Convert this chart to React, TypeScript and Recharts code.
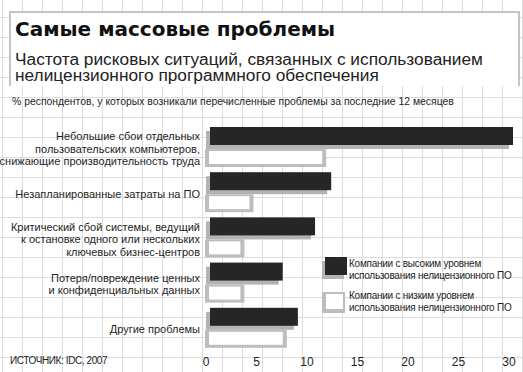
import { BarChart, Bar, XAxis, YAxis } from "recharts"

const categories = [
  "Небольшие сбои отдельных\nпользовательских компьютеров,\nснижающие производительность труда",
  "Незапланированные затраты на ПО",
  "Критический сбой системы, ведущий\nк остановке одного или нескольких\nключевых бизнес-центров",
  "Потеря/повреждение ценных\nи конфиденциальных данных",
  "Другие проблемы",
]
// % respondents, companies with high / low use of unlicensed software
const highUse = [30, 12, 10.4, 7.2, 8.7]
const lowUse = [11.9, 4.7, 3.8, 3.8, 8]
const xTicks = [0, 5, 10, 15, 20, 25, 30]
const seriesNames = [
  ["Компании с высоким уровнем", "использования нелицензионного ПО"],
  ["Компании с низким уровнем", "использования нелицензионного ПО"],
]

const data = categories.map((name, i) => ({ name, high: highUse[i], low: lowUse[i] }))

const FONT = "'Liberation Sans', Arial, sans-serif"
const DARK = "#262626"
const SHADOW = "#b3b3b3"
const BORDER = "#bdbdbd"

const DarkBar = (props: any) => {
  const { x, y, width, height } = props
  if (!width) return null
  return (
    <g>
      <rect x={x} y={y} width={width} height={height} fill={SHADOW} />
      <rect x={x + 4} y={y - 4} width={width} height={height} fill={DARK} />
    </g>
  )
}

const LightBar = (props: any) => {
  const { x, y, width, height } = props
  if (!width) return null
  return (
    <g>
      <rect x={x - 1} y={y} width={width + 1} height={height} fill={BORDER} />
      <rect x={x + 3} y={y + 2} width={Math.max(width - 7, 0)} height={height - 5} fill="#fff" />
    </g>
  )
}

const CategoryTick = ({ x, y, payload }: any) => {
  const lines = String(payload.value).split("\n")
  const lh = 12.5
  const top = y - ((lines.length - 1) * lh) / 2
  return (
    <text x={x} y={top} textAnchor="end" fontSize={11} fontFamily={FONT} fill="#1e1e1e">
      {lines.map((l, i) => (
        <tspan key={i} x={x} y={top + i * lh + 4}>
          {l}
        </tspan>
      ))}
    </text>
  )
}

const LegendBox = () => (
  <svg width={200} height={64} style={{ position: "absolute", left: 318, top: 254 }}>
    <rect x={4} y={7} width={22} height={18} fill={SHADOW} />
    <rect x={7} y={3} width={22} height={18} fill={DARK} />
    <rect x={4} y={38} width={23} height={21} fill={BORDER} />
    <rect x={8} y={40} width={17} height={15} fill="#fff" />
    {seriesNames.map((lines, k) => (
      <text key={k} fontSize={10} letterSpacing={-0.25} fontFamily={FONT} fill="#1e1e1e">
        {lines.map((l, i) => (
          <tspan key={i} x={31} y={13 + k * 32 + i * 12}>
            {l}
          </tspan>
        ))}
      </text>
    ))}
  </svg>
)

export default function App() {
  return (
    <div
      style={{
        position: "absolute",
        left: 0,
        top: 0,
        width: 523,
        height: 372,
        background: "#fff",
        backgroundImage:
          "linear-gradient(to right, #dcdcdc 1px, transparent 1px), linear-gradient(to bottom, #dcdcdc 1px, transparent 1px)",
        backgroundSize: "20px 20px",
        backgroundPosition: "2px 17px",
        overflow: "hidden",
      }}
    >
      <svg width={523} height={372} style={{ position: "absolute", left: 0, top: 0 }}>
        <rect x={10} y={12} width={509} height={74} fill="#fff" />
        <path d="M10 86 V12 H519 V86" fill="none" stroke="#c4c4c4" strokeWidth={2} />
        <text x={15} y={36} fontSize={20} fontWeight="bold" fontFamily="'DejaVu Sans', sans-serif" fill="#111">
          Самые массовые проблемы
        </text>
        <text fontSize={17.3} fontFamily={FONT} fill="#222">
          <tspan x={15} y={65}>Частота рисковых ситуаций, связанных с использованием</tspan>
          <tspan x={15} y={81}>нелицензионного программного обеспечения</tspan>
        </text>
        <text x={12} y={105} fontSize={10.4} fontFamily={FONT} fill="#1e1e1e">
          % респондентов, у которых возникали перечисленные проблемы за последние 12 месяцев
        </text>
        <text x={10} y={364} fontSize={10} letterSpacing={-0.4} fontFamily={FONT} fill="#1e1e1e">
          ИСТОЧНИК: IDC, 2007
        </text>
      </svg>
      <div style={{ position: "absolute", left: 0, top: 0 }}>
        <BarChart
          width={523}
          height={372}
          data={data}
          layout="vertical"
          margin={{ top: 126, right: 14, bottom: 0, left: 0 }}
          barSize={18}
          barGap={0}
        >
          <XAxis
            type="number"
            domain={[0, 30]}
            ticks={xTicks}
            axisLine={false}
            tickLine={false}
            tickSize={3}
            tickMargin={2}
            height={20}
            interval={0}
            tick={{ fontSize: 12, fontFamily: FONT, fill: "#1e1e1e" }}
          />
          <YAxis
            type="category"
            dataKey="name"
            width={206}
            axisLine={false}
            tickLine={false}
            tickSize={0}
            tickMargin={6}
            interval={0}
            tick={<CategoryTick />}
          />
          <Bar dataKey="high" name={seriesNames[0].join(" ")} shape={<DarkBar />} isAnimationActive={false} />
          <Bar dataKey="low" name={seriesNames[1].join(" ")} shape={<LightBar />} isAnimationActive={false} />
        </BarChart>
      </div>
      <LegendBox />
    </div>
  )
}
